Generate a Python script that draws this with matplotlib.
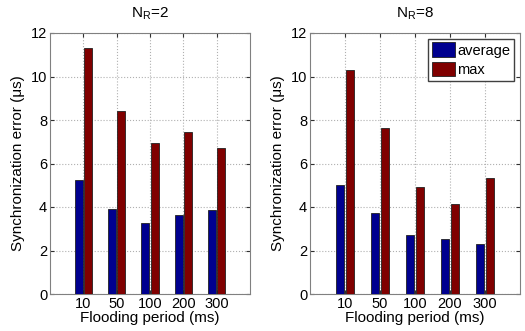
import numpy as np
import matplotlib
matplotlib.use('Agg')
import matplotlib.pyplot as plt

plt.rcParams['font.family'] = ['Liberation Sans', 'DejaVu Sans']
plt.rcParams['mathtext.fontset'] = 'custom'
plt.rcParams['mathtext.rm'] = 'Liberation Sans'

periods = ['10', '50', '100', '200', '300']
avg_nr2 = [5.25, 3.92, 3.28, 3.63, 3.88]
max_nr2 = [11.3, 8.42, 6.92, 7.46, 6.72]
avg_nr8 = [5.0, 3.74, 2.70, 2.55, 2.31]
max_nr8 = [10.3, 7.62, 4.92, 4.12, 5.32]

BLUE = '#00008f'
RED = '#800000'

fig = plt.figure(figsize=(5.25, 3.31), dpi=100)
ax1 = fig.add_axes([50 / 525, 37 / 331, 200 / 525, 261 / 331])
ax2 = fig.add_axes([310 / 525, 37 / 331, 210 / 525, 261 / 331])


def draw_panel(ax, avg, mx, title):
    x = np.arange(1, len(periods) + 1)
    w = 0.24
    ax.bar(x - 0.14, avg, w, color=BLUE, edgecolor='#202020', linewidth=0.6,
           label='average', zorder=3)
    ax.bar(x + 0.14, mx, w, color=RED, edgecolor='#202020', linewidth=0.6,
           label='max', zorder=3)
    ax.set_xlim(0, 6)
    ax.set_ylim(0, 12)
    ax.set_xticks(x)
    ax.set_xticklabels(periods)
    ax.set_yticks(range(0, 13, 2))
    ax.grid(True, linestyle=':', color='#b0b0b0', linewidth=0.8, zorder=0)
    ax.tick_params(labelsize=10.5, length=3, direction='in', pad=2,
                   top=True, right=True, colors='#303030', labelcolor='black')
    for s in ax.spines.values():
        s.set_color('#808080')
        s.set_linewidth(0.8)
    ax.set_xlabel('Flooding period (ms)', fontsize=11, labelpad=0)
    ax.set_ylabel('Synchronization error (\u03bcs)', fontsize=11, labelpad=4)
    ax.set_title(title, fontsize=11, pad=11)


draw_panel(ax1, avg_nr2, max_nr2, r'N$_\mathregular{R}$=2')
draw_panel(ax2, avg_nr8, max_nr8, r'N$_\mathregular{R}$=8')

ax2.legend(loc='upper right', fontsize=10.5, frameon=True, fancybox=False,
           edgecolor='#404040', framealpha=1, handlelength=1.6, handleheight=1.2,
           handletextpad=0.15, borderpad=0.25, labelspacing=0.25,
           borderaxespad=0.4)

fig.savefig('out.png', dpi=100)
